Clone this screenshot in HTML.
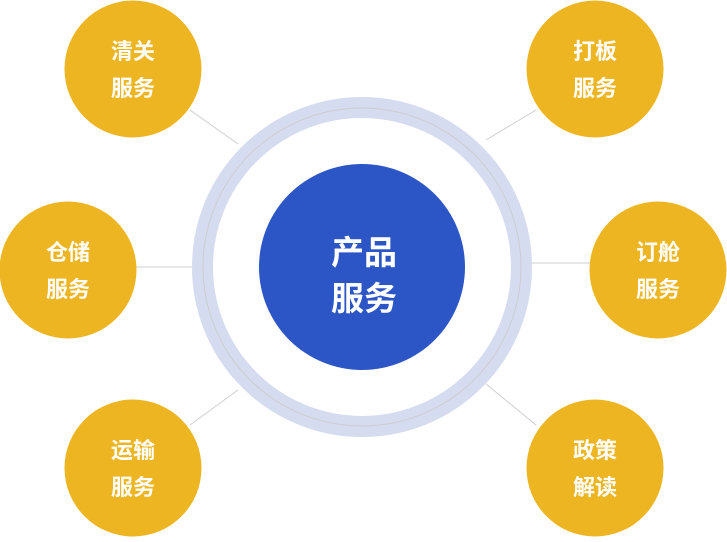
<!DOCTYPE html>
<html><head><meta charset="utf-8"><style>
html,body{margin:0;padding:0;background:#fff;}
svg text{font-family:"Liberation Sans","Noto Sans CJK SC",sans-serif;font-weight:bold;fill:#fff;text-anchor:middle;}
</style></head><body>
<svg width="727" height="537" viewBox="0 0 727 537" xmlns="http://www.w3.org/2000/svg">
<g stroke="#cfcfcf" stroke-width="1">
<line x1="190" y1="110" x2="238" y2="144"/>
<line x1="536" y1="110" x2="486" y2="140"/>
<line x1="136" y1="267" x2="192" y2="267"/>
<line x1="532" y1="263" x2="590" y2="263"/>
<line x1="190" y1="425" x2="238" y2="390"/>
<line x1="536" y1="425" x2="486" y2="384"/>
</g>
<circle cx="362" cy="267" r="159.5" fill="none" stroke="#d5dcf0" stroke-width="21"/>
<circle cx="362" cy="267" r="159" fill="none" stroke="#cdcdd0" stroke-width="1"/>
<circle cx="362" cy="267" r="103" fill="#2c55c5"/>
<text x="364" y="264" font-size="33">产品</text>
<text x="364" y="310" font-size="33">服务</text>
<g fill="#ecb521">
<circle cx="133" cy="69" r="68.5"/>
<circle cx="595" cy="69" r="68.5"/>
<circle cx="68" cy="270" r="68.5"/>
<circle cx="658" cy="270" r="68.5"/>
<circle cx="133" cy="468" r="68.5"/>
<circle cx="595" cy="468" r="68.5"/>
</g>
<g font-size="22">
<text x="133" y="59">清关</text><text x="133" y="96">服务</text>
<text x="595" y="59">打板</text><text x="595" y="96">服务</text>
<text x="68" y="260">仓储</text><text x="68" y="297">服务</text>
<text x="658" y="260">订舱</text><text x="658" y="297">服务</text>
<text x="133" y="458">运输</text><text x="133" y="495">服务</text>
<text x="595" y="458">政策</text><text x="595" y="495">解读</text>
</g>
</svg>
</body></html>
